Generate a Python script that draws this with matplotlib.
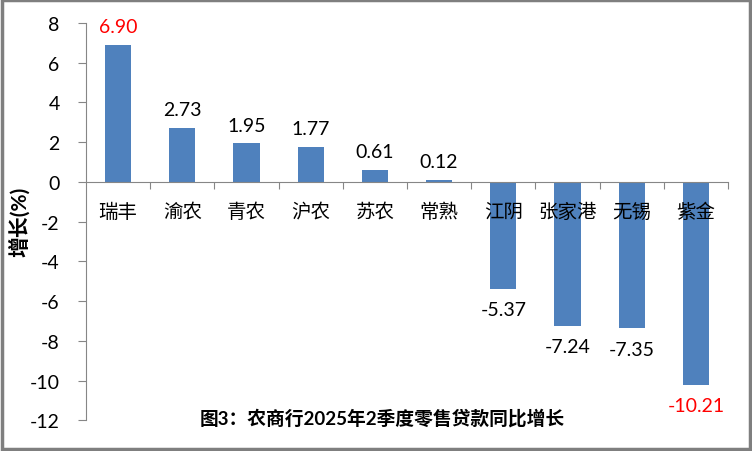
import matplotlib
matplotlib.use("Agg")
import matplotlib.pyplot as plt
from matplotlib.patches import Rectangle
from matplotlib.transforms import offset_copy

plt.rcParams['font.family'] = ['Lato', 'Noto Sans CJK SC', 'DejaVu Sans']

categories = ['瑞丰', '渝农', '青农', '沪农', '苏农', '常熟', '江阴', '张家港', '无锡', '紫金']
values = [6.90, 2.73, 1.95, 1.77, 0.61, 0.12, -5.37, -7.24, -7.35, -10.21]
yticks = [-12, -10, -8, -6, -4, -2, 0, 2, 4, 6, 8]
title = '图3：农商行2025年2季度零售贷款同比增长'
ylabel = '增长(%)'

bar_color = '#4F81BD'
axis_color = '#868686'

fig = plt.figure(figsize=(7.52, 4.52), dpi=100)
ax = fig.add_axes([0.1144, 0.0675, 0.8537, 0.8794])

x = list(range(len(categories)))
ax.bar(x, values, width=0.41, color=bar_color, zorder=2)

ax.set_xlim(-0.5, len(categories) - 0.5)
ax.set_ylim(-12, 8)
ax.set_yticks(yticks)
ax.set_yticklabels([str(t) for t in yticks], fontsize=14)
ax.tick_params(axis='y', length=6, color=axis_color, pad=13)

for s in ['top', 'right']:
    ax.spines[s].set_visible(False)
ax.spines['left'].set_color(axis_color)
ax.spines['bottom'].set_color(axis_color)
ax.spines['bottom'].set_position(('data', 0))

# ticks at category boundaries
ax.set_xticks([i + 0.5 for i in x])
ax.set_xticklabels([])
ax.tick_params(axis='x', which='major', length=5, color=axis_color, direction='out')

lab_trans = offset_copy(ax.transData, fig=fig, x=0, y=-29, units='dots')
for i, c in enumerate(categories):
    ax.text(i, 0, c, transform=lab_trans, ha='center', va='center', fontsize=14, zorder=5)

imax = values.index(max(values))
imin = values.index(min(values))
for i, v in enumerate(values):
    col = 'red' if i in (imax, imin) else 'black'
    if v >= 0:
        ax.annotate(f'{v:.2f}', (i, v), xytext=(0, 7), textcoords='offset points',
                    ha='center', va='bottom', fontsize=14, color=col)
    else:
        ax.annotate(f'{v:.2f}', (i, v), xytext=(0, -9), textcoords='offset points',
                    ha='center', va='top', fontsize=14, color=col)

fig.text(19 / 752, 1 - 222 / 452, ylabel, rotation=90, ha='center', va='center',
         fontsize=15, fontweight='bold')
fig.text(382 / 752, 1 - 418 / 452, title, ha='center', va='center',
         fontsize=13.5, fontweight='bold')

fig.patches.append(Rectangle((0.002, 0.004), 0.995, 0.993, transform=fig.transFigure,
                             fill=False, edgecolor='#7F7F7F', linewidth=2.5))

fig.savefig('out.png', dpi=100)
